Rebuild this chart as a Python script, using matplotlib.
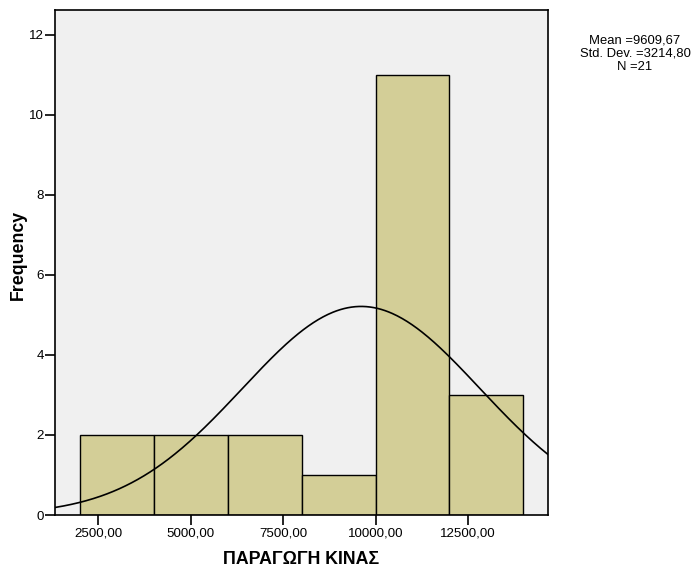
import numpy as np
import matplotlib
matplotlib.use("Agg")
import matplotlib.pyplot as plt

# Histogram of production values (bin edges and counts)
bin_edges = [2000, 4000, 6000, 8000, 10000, 12000, 14000]
counts = [2, 2, 2, 1, 11, 3]

# Summary statistics for the fitted normal curve
mean_val = 9609.67
std_val = 3214.80
n_obs = 21

x_ticks = [2500, 5000, 7500, 10000, 12500]
y_ticks = [0, 2, 4, 6, 8, 10, 12]

plt.rcParams['font.family'] = ['Liberation Sans', 'DejaVu Sans']

L, R, T, B = 55, 548, 10, 515
fig = plt.figure(figsize=(6.96, 5.72), dpi=100)
ax = fig.add_axes([L / 696, 1 - B / 572, (R - L) / 696, (B - T) / 572])
ax.set_facecolor('#F0F0F0')

widths = np.diff(bin_edges)
ax.bar(bin_edges[:-1], counts, width=widths, align='edge',
       color='#D3CE97', edgecolor='black', linewidth=1.0, zorder=2)

xmin, xmax = 1324, 14667
xs = np.linspace(xmin, xmax, 400)
bw = widths[0]
ys = n_obs * bw / (std_val * np.sqrt(2 * np.pi)) * np.exp(-0.5 * ((xs - mean_val) / std_val) ** 2)
ax.plot(xs, ys, color='black', linewidth=1.2, zorder=3)

ax.set_xlim(xmin, xmax)
ax.set_ylim(0, 12.62)
ax.set_xticks(x_ticks)
ax.set_xticklabels([f"{v:.2f}".replace('.', ',') for v in x_ticks])
ax.set_yticks(y_ticks)
ax.set_yticklabels([str(v) for v in y_ticks])
ax.tick_params(axis='both', direction='out', length=7, width=1.2, labelsize=9.6,
               colors='black', pad=1)
ax.tick_params(axis='x', top=False, pad=2)
ax.tick_params(axis='y', right=False)
for s in ax.spines.values():
    s.set_linewidth(1.2)
    s.set_color('black')

ax.set_xlabel('ΠΑΡΑΓΩΓΗ ΚΙΝΑΣ', fontsize=12.8, fontweight='bold')
ax.xaxis.set_label_coords((301 - L) / (R - L), -(560 - B) / (B - T))
ax.xaxis.label.set_va('center')
ax.set_ylabel('Frequency', fontsize=12.8, fontweight='bold')
ax.yaxis.set_label_coords(-(L - 18) / (R - L), (B - 255) / (B - T))
ax.yaxis.label.set_va('center')

fig.text(635 / 696, 1 - 54 / 572,
         "Mean =9609,67\nStd. Dev. =3214,80\nN =21",
         ha='center', va='center', fontsize=9.4, linespacing=1.12)

fig.savefig('out.png', dpi=100, facecolor='white')
